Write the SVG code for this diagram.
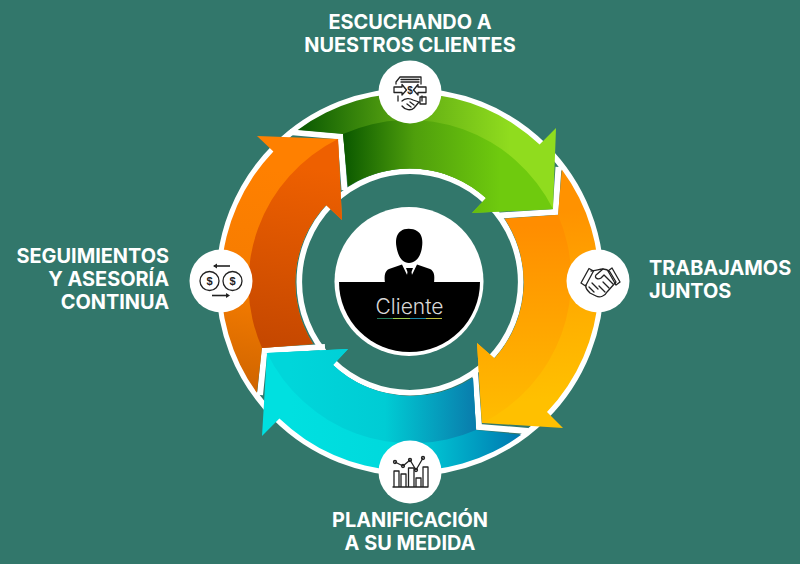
<svg xmlns="http://www.w3.org/2000/svg" width="800" height="564" viewBox="0 0 800 564">
<style>
.lbl{font-family:"Inter","Liberation Sans",sans-serif;font-weight:700;font-size:19.9px;fill:#fff}
.ic{fill:none;stroke:#222;stroke-width:1.3;stroke-linecap:round;stroke-linejoin:round}
.gap{fill:none;stroke:#fff;stroke-width:6;stroke-linejoin:miter}
.disc{fill:#fff}
</style>
<defs>
<linearGradient id="gL" gradientUnits="userSpaceOnUse" x1="300" y1="0" x2="510" y2="0"><stop offset="0" stop-color="#0b5a02"/><stop offset=".5" stop-color="#5ca812"/><stop offset="1" stop-color="#90dc1e"/></linearGradient>
<linearGradient id="gD" gradientUnits="userSpaceOnUse" x1="345" y1="0" x2="500" y2="0"><stop offset="0" stop-color="#0c5a00"/><stop offset=".45" stop-color="#4f9f0c"/><stop offset="1" stop-color="#6fca0e"/></linearGradient>
<linearGradient id="yL" gradientUnits="userSpaceOnUse" x1="515" y1="215" x2="535" y2="400"><stop offset="0" stop-color="#ff9200"/><stop offset=".6" stop-color="#ffb000"/><stop offset="1" stop-color="#ffc000"/></linearGradient>
<linearGradient id="yD" gradientUnits="userSpaceOnUse" x1="505" y1="225" x2="505" y2="420"><stop offset="0" stop-color="#ff8d00"/><stop offset="1" stop-color="#ffbc00"/></linearGradient>
<linearGradient id="bL" gradientUnits="userSpaceOnUse" x1="290" y1="0" x2="520" y2="0"><stop offset="0" stop-color="#00e0e0"/><stop offset=".5" stop-color="#00d8dc"/><stop offset="1" stop-color="#0078b0"/></linearGradient>
<linearGradient id="bD" gradientUnits="userSpaceOnUse" x1="290" y1="0" x2="480" y2="0"><stop offset="0" stop-color="#00d6da"/><stop offset=".5" stop-color="#00ccd4"/><stop offset="1" stop-color="#0a78aa"/></linearGradient>
<linearGradient id="oL" gradientUnits="userSpaceOnUse" x1="280" y1="170" x2="240" y2="390"><stop offset="0" stop-color="#ff8000"/><stop offset=".55" stop-color="#f57c00"/><stop offset="1" stop-color="#cf6400"/></linearGradient>
<linearGradient id="oD" gradientUnits="userSpaceOnUse" x1="320" y1="170" x2="290" y2="345"><stop offset="0" stop-color="#ee6000"/><stop offset="1" stop-color="#c64800"/></linearGradient>
</defs>
<rect width="800" height="564" fill="#32776b"/>
<g id="connectors">
<circle cx="410" cy="282" r="191" fill="none" stroke="#fff" stroke-width="6"/>
<circle cx="410" cy="282" r="110.7" fill="none" stroke="#fff" stroke-width="5.6"/>
<path class="gap" d="M290,132L340.5,136.500L344.500,190"/>
<path class="gap" d="M500,215.500L555.500,212L558.500,167"/>
<path class="gap" d="M528,431L479,427L475,372"/>
<path class="gap" d="M325,347L264.500,350.500L260,395"/>
<path id="arrow-green" fill="url(#gL)" d="M297.700,130L343,134L348,186.400A114,114 0 0 1 486,198L472,213L553,209L556,128L539.600,144.500A189,189 0 0 0 297.700,130Z"/>
<path fill="url(#gD)" d="M343,134A161,161 0 0 1 553,209L472,213L486,198A114,114 0 0 0 348,186.400Z"/>
<path id="arrow-yellow" fill="url(#yL)" d="M561.800,169.400L558,215L504.800,218.800A114,114 0 0 1 494.600,358.400L477,343L482,423L563,428L547,412.100A189,189 0 0 0 561.800,169.400Z"/>
<path fill="url(#yD)" d="M558,215A161,161 0 0 1 482,423L477,343L494.600,358.400A114,114 0 0 0 504.800,218.800Z"/>
<path id="arrow-blue" fill="url(#bL)" d="M521.300,434.800L476,430L473,378A114,114 0 0 1 333,365L348,349L267,353L262,436L279.400,418.600A189,189 0 0 0 521.300,434.800Z"/>
<path fill="url(#bD)" d="M476,430A161,161 0 0 1 267,353L348,349L333,365A114,114 0 0 0 473,378Z"/>
<path id="arrow-orange" fill="url(#oL)" d="M256.900,392.800L262,348L313,344A114,114 0 0 1 326,205L342,220L338,139L257,136L273.400,151.400A189,189 0 0 0 256.900,392.800Z"/>
<path fill="url(#oD)" d="M262,348A161,161 0 0 1 338,139L342,220L326,205A114,114 0 0 0 313,344Z"/>
</g>
<g id="node-cliente">
<circle cx="409" cy="281.500" r="74.500" fill="#fff"/>
<path d="M339,282H480A70.500,70 0 0 1 339,282Z" fill="#000"/>
<path d="M396.500,247C395,240 397,233 401,231C404,228 413,228 417,231C422,234 423,240 422,247C421,256 416,263 409,263C402,263 398,256 396.500,247Z" fill="#000"/>
<path d="M385,283C384,275 385,271 389,269L402,264.500L409.500,280L417,264.500L430,269C434,271 435,275 434,283Z" fill="#000"/>
<path d="M406,268H413L411.500,272L413,281H406L407.500,272Z" fill="#000"/>
<text x="409.500" y="314" text-anchor="middle" style="font-family:Inter,'Liberation Sans',sans-serif;font-weight:300;font-size:21px;fill:#d8d8d8">Cliente</text>
<path d="M377,318.500H393" stroke="#1f7a5a" stroke-width="1"/><path d="M393,318.500H410" stroke="#9ccc50" stroke-width="1"/><path d="M410,318.500H426" stroke="#1d8aa8" stroke-width="1"/><path d="M426,318.500H442" stroke="#c0c040" stroke-width="1"/>
</g>
<g id="node-escuchando">
<circle class="disc" cx="410" cy="92" r="31.500"/>
<path class="ic" d="M396,84V82L400,77H421V84M401,79.500H419M401,82H419M398,96V101M422,96V101"/>
<path class="ic" d="M394,87H402V84.500L406.500,90L402,95V92.500H394ZM426,87H418V84.500L413.500,90L418,95V92.500H426Z"/>
<text x="410" y="94" text-anchor="middle" style="font-family:'Liberation Sans',sans-serif;font-size:10px;font-weight:700;fill:#222">$</text>
<path class="ic" d="M420,97H426V104H420ZM402,101C405,98 410,98 413,100L419,102L414,108C411,111 405,110 402,106M407,104L411,107M410,102L414,105"/>
<text x="410" y="29" text-anchor="middle" class="lbl">ESCUCHANDO A</text>
<text x="410" y="52" text-anchor="middle" class="lbl">NUESTROS CLIENTES</text>
</g>
<g id="node-trabajamos">
<circle class="disc" cx="598" cy="281" r="31.500"/>
<path class="ic" d="M581,283L589,268.500L593.500,271L585.500,286ZM612,268L620,282L616,285L608,271Z"/>
<path class="ic" d="M591,271C596,271 599,269 603,269C606,269 608,270 610,272L616,282L607,292C605,296 600,298 596,296L590,293C587,290 585,288 586,285"/>
<path class="ic" d="M603,269L596,275C594,278 598,280 601,278L604,275L613,284M609,288L603,282M605,292L599,286M589,287L594,292M592,283L598,289"/>
<text x="649" y="275" class="lbl">TRABAJAMOS</text>
<text x="649" y="298" class="lbl">JUNTOS</text>
</g>
<g id="node-planificacion">
<circle class="disc" cx="410" cy="472" r="31.500"/>
<path class="ic" d="M393,487H428M394,487V471H399V487M401,487V474H406V487M408.500,487V468H414V487M416,487V478H421V487M423,487V467H428V487"/>
<path class="ic" d="M395,462L403,466L410,460L416,470L423,458"/>
<circle class="ic" cx="395" cy="462" r="1.500"/><circle class="ic" cx="403" cy="466" r="1.500"/><circle class="ic" cx="410" cy="460" r="1.500"/><circle class="ic" cx="416" cy="470" r="1.500"/><circle class="ic" cx="423" cy="458" r="1.500"/>
<text x="410" y="527" text-anchor="middle" class="lbl">PLANIFICACIÓN</text>
<text x="410" y="550" text-anchor="middle" class="lbl">A SU MEDIDA</text>
</g>
<g id="node-seguimientos">
<circle class="disc" cx="221" cy="281" r="31.500"/>
<circle class="ic" cx="209.500" cy="281" r="9.500" stroke-width="2"/><circle class="ic" cx="232.500" cy="281" r="9.500" stroke-width="2"/>
<text x="209.500" y="285" text-anchor="middle" style="font-family:'Liberation Sans',sans-serif;font-size:11px;font-weight:700;fill:#222">$</text>
<text x="232.500" y="285" text-anchor="middle" style="font-family:'Liberation Sans',sans-serif;font-size:11px;font-weight:700;fill:#222">$</text>
<path d="M230,266H214" stroke="#222" stroke-width="1.600"/><path d="M213,266L217,263.500V268.500Z" fill="#222"/>
<path d="M212,295.500H228" stroke="#222" stroke-width="1.600"/><path d="M230,295.500L226,293V298Z" fill="#222"/>
<text x="169" y="263" text-anchor="end" class="lbl">SEGUIMIENTOS</text>
<text x="169" y="286" text-anchor="end" class="lbl">Y ASESORÍA</text>
<text x="169" y="309" text-anchor="end" class="lbl">CONTINUA</text>
</g>
</svg>
